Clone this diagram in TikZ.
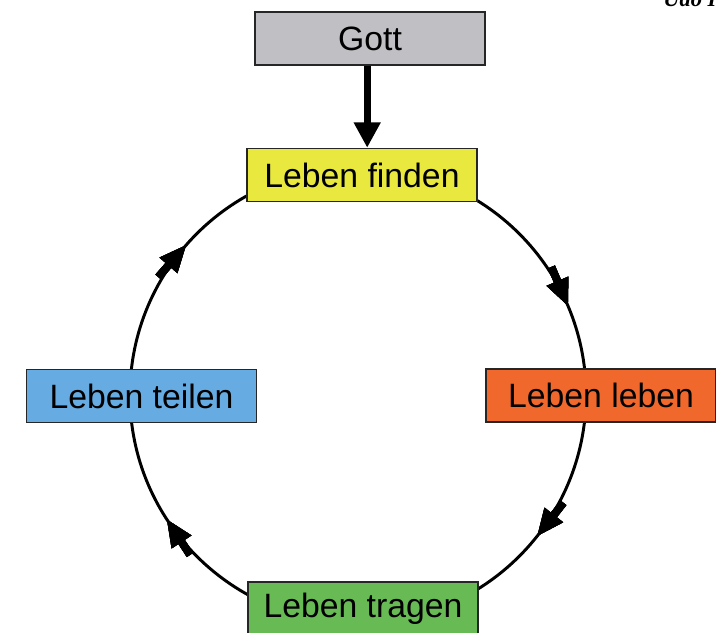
\documentclass[tikz,border=0pt]{standalone}
\usepackage{fontspec}
\setmainfont{Liberation Sans}
\newfontfamily\sigfont{Liberation Serif}
\usetikzlibrary{arrows.meta, positioning, calc, decorations.markings}
\definecolor{godgray}{RGB}{191, 191, 196}
\definecolor{findyellow}{RGB}{232, 232, 62}
\definecolor{liveorange}{RGB}{240, 104, 44}
\definecolor{shareblue}{RGB}{102, 172, 226}
\definecolor{carrygreen}{RGB}{104, 186, 84}

\begin{document}
\begin{tikzpicture}[x=0.025cm, y=0.025cm,
    box/.style={rectangle, draw=black!85, line width=0.9pt, minimum width=5.75cm,
                minimum height=1.33cm, align=center, font=\fontsize{24}{28}\selectfont},
    flowmark/.style={decoration={markings, mark=at position #1 with {
                \draw[line width=5.5pt] (-30pt,0) -- (-12pt,0);
                \fill (0,0) -- (-19pt,8.5pt) -- (-19pt,-8.5pt) -- cycle;}},
                postaction={decorate}}]
    \useasboundingbox (0,0) rectangle (716,632);

    % Cycle
    \coordinate (mid) at (358,237);
    \draw[line width=2.1pt, flowmark=0.186, flowmark=0.356, flowmark=0.658, flowmark=0.864]
        (mid) ++(90:5.7cm) arc[start angle=90, end angle=-270, radius=5.7cm];

    % Process
    \node[box, fill=godgray] (gott) at (370,593.5) {Gott};
    \node[box, fill=findyellow] (finden) at (362,457) {Leben finden};
    \node[box, fill=liveorange] (leben) at (601,236.5) {Leben leben};
    \node[box, fill=carrygreen] (tragen) at (363,23.5) {Leben tragen};
    \node[box, fill=shareblue] (teilen) at (141.5,236) {Leben teilen};

    \node[anchor=base west, inner sep=0pt, font=\sigfont\bfseries\itshape\fontsize{16}{18}\selectfont]
        (sig) at (663,625) {Udo I};

    % Arrows
    \draw[-{Triangle[width=18pt, length=18pt]}, line width=5pt]
        ([xshift=-2pt]gott.south) -- ([xshift=-2pt]gott.south |- finden.north);
\end{tikzpicture}
\end{document}
